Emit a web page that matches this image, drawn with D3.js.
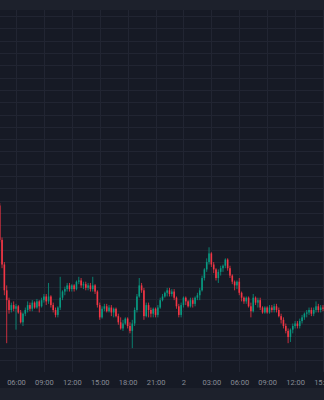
<!DOCTYPE html>
<html>
<head>
<meta charset="utf-8">
<script src="https://cdn.jsdelivr.net/npm/d3@7"></script>
<style>
  html, body { margin: 0; padding: 0; background: #161a25; overflow: hidden; }
  svg { display: block; }
</style>
</head>
<body>
<svg id="chart" width="324" height="400"></svg>
<script>
// 15-minute bars, starting 1 May 04:15
const startTime = new Date(2024, 4, 1, 4, 15);
const barMinutes = 15;
const firstOpen = 2546;

const closes = [
  2518, 2498, 2477, 2469, 2461, 2465, 2462, 2464, 2459, 2451,
  2458, 2461, 2465, 2462, 2467, 2463, 2468, 2464, 2469, 2472,
  2468, 2472, 2465, 2461, 2457, 2463, 2471, 2476, 2478, 2481,
  2478, 2481, 2478, 2484, 2485, 2481, 2482, 2479, 2481, 2478,
  2481, 2476, 2465, 2455, 2462, 2464, 2460, 2463, 2459, 2462,
  2456, 2451, 2446, 2450, 2454, 2448, 2444, 2450, 2461, 2472,
  2481, 2477, 2456, 2465, 2461, 2458, 2462, 2457, 2463, 2469,
  2472, 2475, 2477, 2474, 2476, 2471, 2464, 2457, 2465, 2471,
  2468, 2464, 2469, 2466, 2471, 2473, 2477, 2487, 2494, 2500,
  2507, 2498, 2494, 2487, 2492, 2495, 2497, 2502, 2495, 2489,
  2484, 2481, 2484, 2475, 2471, 2468, 2471, 2464, 2460, 2471,
  2467, 2469, 2463, 2459, 2463, 2459, 2463, 2461, 2464, 2461,
  2456, 2453, 2448, 2444, 2439, 2445, 2448, 2450, 2448, 2452,
  2455, 2458, 2459, 2461, 2458, 2461, 2464, 2461, 2463, 2462
];

const highs = [
  2548, 2520, 2500, 2481, 2471, 2467, 2468, 2466, 2465, 2461,
  2459, 2463, 2468, 2467, 2469, 2468, 2470, 2469, 2471, 2474,
  2474, 2483, 2473, 2467, 2463, 2464, 2488, 2477, 2480, 2483,
  2483, 2482, 2482, 2485, 2488, 2487, 2484, 2484, 2483, 2483,
  2488, 2482, 2477, 2467, 2464, 2466, 2466, 2465, 2465, 2463,
  2463, 2458, 2455, 2453, 2455, 2455, 2451, 2453, 2463, 2474,
  2487, 2483, 2479, 2467, 2467, 2463, 2463, 2463, 2465, 2471,
  2474, 2476, 2479, 2479, 2478, 2478, 2472, 2466, 2467, 2472,
  2472, 2469, 2471, 2471, 2472, 2475, 2479, 2489, 2495, 2503,
  2512, 2508, 2500, 2495, 2494, 2497, 2498, 2503, 2503, 2497,
  2490, 2485, 2485, 2487, 2476, 2472, 2472, 2472, 2467, 2474,
  2472, 2471, 2471, 2464, 2464, 2464, 2465, 2465, 2466, 2466,
  2463, 2458, 2455, 2450, 2446, 2446, 2450, 2452, 2452, 2454,
  2457, 2459, 2461, 2463, 2463, 2463, 2468, 2466, 2465, 2465
];

const lows = [
  2516, 2495, 2473, 2434, 2458, 2459, 2460, 2445, 2458, 2450,
  2448, 2456, 2459, 2460, 2460, 2462, 2462, 2459, 2463, 2467,
  2465, 2466, 2463, 2459, 2455, 2455, 2461, 2469, 2473, 2476,
  2476, 2476, 2476, 2477, 2482, 2479, 2478, 2477, 2477, 2476,
  2476, 2474, 2463, 2453, 2454, 2460, 2459, 2459, 2456, 2455,
  2455, 2449, 2445, 2444, 2449, 2446, 2442, 2430, 2448, 2459,
  2471, 2475, 2453, 2455, 2455, 2455, 2455, 2455, 2455, 2462,
  2468, 2471, 2472, 2472, 2472, 2469, 2462, 2455, 2455, 2463,
  2465, 2463, 2463, 2463, 2464, 2469, 2469, 2476, 2485, 2492,
  2498, 2496, 2491, 2485, 2483, 2489, 2492, 2495, 2493, 2487,
  2482, 2477, 2478, 2473, 2468, 2466, 2466, 2463, 2455, 2459,
  2465, 2463, 2461, 2458, 2458, 2458, 2458, 2459, 2459, 2459,
  2455, 2450, 2446, 2442, 2434, 2435, 2442, 2446, 2446, 2446,
  2450, 2453, 2455, 2457, 2456, 2456, 2459, 2459, 2459, 2460
];

// time-axis labels, one every 3 hours from 1 May 06:00
const tickStart = new Date(2024, 4, 1, 6, 0);
const tickLabels = ["06:00", "09:00", "12:00", "15:00", "18:00", "21:00",
                    "2", "03:00", "06:00", "09:00", "12:00", "15:00"];

// price levels for horizontal grid lines
const gridLevels = d3.range(2420, 2701, 10);

const colors = {
  bg: "#161a25",
  band: "#1d212c",
  grid: "#212532",
  up: "#089981",
  down: "#f23645",
  text: "#878b96"
};

const W = 324, H = 400;
const plotTop = 10, plotBottom = 372;

const bars = closes.map((c, i) => ({
  t: d3.timeMinute.offset(startTime, i * barMinutes),
  o: i === 0 ? firstOpen : closes[i - 1],
  h: highs[i],
  l: lows[i],
  c: c
}));

const tickDates = tickLabels.map((_, i) => d3.timeHour.offset(tickStart, i * 3));

const x = d3.scaleTime()
  .domain([tickDates[0], tickDates[tickDates.length - 1]])
  .range([16, 323]);

const y = d3.scaleLinear()
  .domain([2410, 2705])
  .range([372.7, plotTop]);

const step = x(d3.timeMinute.offset(tickStart, barMinutes)) - x(tickStart);
const bodyW = step * 0.68;

const svg = d3.select("#chart");

svg.append("rect").attr("width", W).attr("height", H).attr("fill", colors.bg);
svg.append("rect").attr("width", W).attr("height", plotTop).attr("fill", colors.band);
svg.append("rect").attr("y", 388).attr("width", W).attr("height", H - 388).attr("fill", colors.band);

const plot = svg.append("g");
plot.append("clipPath").attr("id", "plot-clip")
  .append("rect").attr("x", 0).attr("y", plotTop).attr("width", W).attr("height", plotBottom - plotTop);

// grid
const grid = plot.append("g").attr("stroke", colors.grid).attr("stroke-width", 1);
grid.selectAll("line.h").data(gridLevels).join("line")
  .attr("class", "h")
  .attr("x1", 0).attr("x2", W)
  .attr("y1", d => Math.round(y(d)) + 0.5)
  .attr("y2", d => Math.round(y(d)) + 0.5);
grid.selectAll("line.v").data(tickDates).join("line")
  .attr("class", "v")
  .attr("y1", plotTop).attr("y2", plotBottom)
  .attr("x1", d => Math.round(x(d)) + 0.5)
  .attr("x2", d => Math.round(x(d)) + 0.5);

// candles
const candles = plot.append("g").attr("clip-path", "url(#plot-clip)")
  .selectAll("g").data(bars).join("g")
  .attr("fill", d => d.c >= d.o ? colors.up : colors.down)
  .attr("stroke", d => d.c >= d.o ? colors.up : colors.down);

candles.append("line")
  .attr("x1", d => x(d.t)).attr("x2", d => x(d.t))
  .attr("y1", d => y(d.h)).attr("y2", d => y(d.l))
  .attr("stroke-width", 0.8);

candles.append("rect")
  .attr("stroke", "none")
  .attr("x", d => x(d.t) - bodyW / 2)
  .attr("width", bodyW)
  .attr("y", d => y(Math.max(d.o, d.c)))
  .attr("height", d => Math.max(1, Math.abs(y(d.o) - y(d.c))));

// time axis
const axis = d3.axisBottom(x)
  .tickValues(tickDates)
  .tickFormat((d, i) => tickLabels[i])
  .tickSize(0)
  .tickPadding(8);

const ax = svg.append("g").attr("transform", `translate(0,${plotBottom})`).call(axis);
ax.select(".domain").remove();
ax.selectAll("text")
  .attr("fill", colors.text)
  .style("font-family", "Roboto, 'Noto Sans', sans-serif")
  .style("font-size", "7.5px");
</script>
</body>
</html>
